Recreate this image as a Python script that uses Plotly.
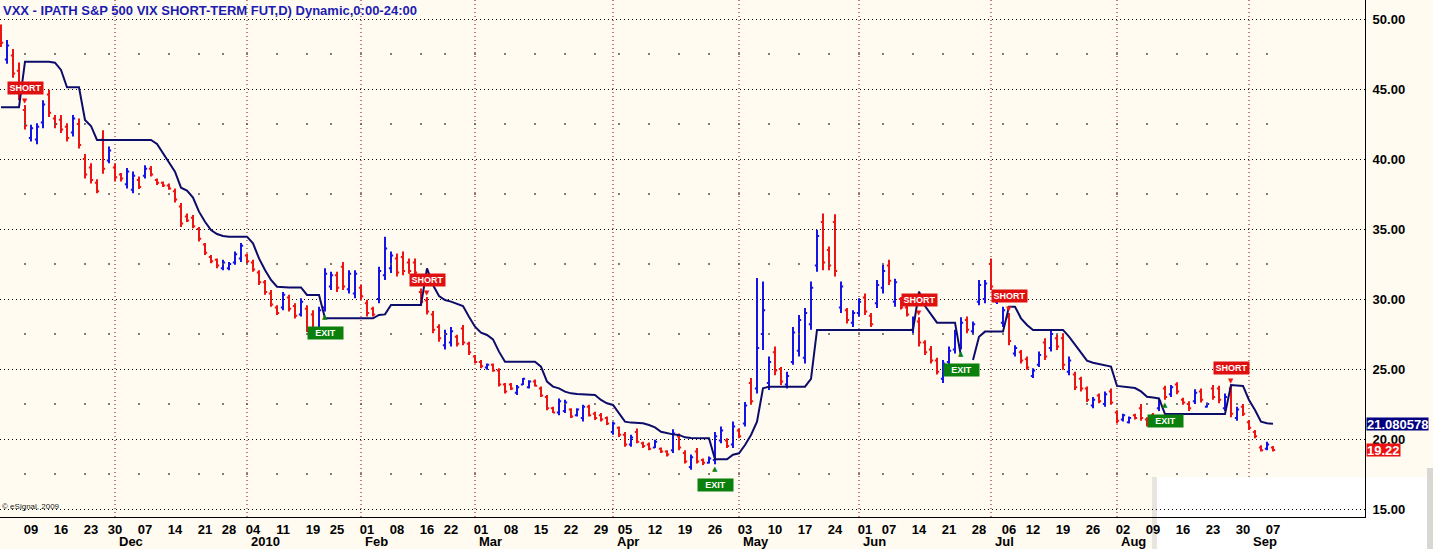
import plotly.graph_objects as go

# ---------------- data ----------------
BAR_OPEN = [
    49.3, 47.1, 47.4, 46.3, 43.5, 41.5, 41.4, 42.6, 44.6, 42.9,
    42.8, 42.3, 41.9, 42.5, 40.0, 39.4, 38.3, 41.4, 39.9, 39.4,
    38.9, 38.2, 37.8, 38.5, 38.8, 39.3, 38.5, 38.3, 38.1, 37.7,
    36.6, 35.9, 35.8, 35.0, 33.9, 33.0, 32.8, 32.2, 32.2, 32.6,
    32.9, 33.1, 32.6, 31.9, 31.2, 30.4, 29.4, 29.4, 30.1, 29.5,
    28.9, 29.3, 28.9, 27.8, 29.4, 30.9, 31.7, 32.3, 30.7, 30.4,
    30.8, 29.7, 29.3, 30.0, 31.7, 32.2, 32.9, 33.0, 32.6, 32.6,
    30.5, 29.9, 28.9, 28.0, 26.7, 26.9, 27.3, 27.9, 26.8, 25.9,
    25.5, 25.1, 25.3, 24.9, 23.9, 23.9, 23.3, 23.9, 23.7, 24.1,
    23.6, 23.0, 22.2, 21.9, 22.0, 22.1, 21.7, 21.5, 22.3, 21.8,
    21.7, 21.5, 20.5, 20.8, 20.3, 19.6, 20.5, 19.7, 19.6, 19.4,
    19.3, 19.1, 19.2, 20.2, 19.0, 18.0, 19.1, 18.5, 18.3, 18.5,
    19.9, 19.9, 19.6, 20.6, 21.1, 24.0, 23.6, 27.5, 24.0, 26.2,
    25.0, 23.9, 25.5, 26.3, 25.8, 28.2, 32.4, 35.5, 33.5, 35.5,
    29.4, 29.2, 28.3, 29.0, 30.1, 28.8, 29.7, 30.8, 32.4, 29.8,
    30.0, 29.4, 27.8, 28.4, 26.9, 26.4, 25.6, 24.3, 25.5, 26.4,
    26.7, 28.5, 27.7, 29.8, 30.0, 32.5, 29.8, 28.3, 28.7, 26.1,
    26.2, 25.7, 24.5, 25.3, 26.9, 26.5, 27.2, 27.2, 24.8, 24.6,
    24.3, 23.6, 22.4, 23.1, 22.5, 23.4, 21.9, 21.4, 21.2, 21.7,
    22.2, 21.4, 21.7, 22.2, 23.6, 23.2, 23.9, 22.8, 22.5, 22.7,
    23.4, 22.3, 23.6, 23.6, 22.2, 23.6, 21.5, 22.3, 21.2, 20.5,
    19.4, 19.3, 19.4,
]
BAR_HIGH = [
    49.6, 48.5, 47.85, 46.9, 43.85, 42.45, 42.55, 44.2, 44.95, 43.15,
    43.15, 42.55, 43.15, 42.9, 40.35, 39.7, 38.55, 42.05, 40.9, 39.7,
    39.0, 39.35, 39.1, 38.75, 39.55, 39.5, 38.6, 38.4, 38.25, 37.9,
    36.85, 36.1, 36.0, 35.15, 34.0, 33.15, 32.9, 32.8, 32.65, 33.4,
    34.0, 33.25, 32.8, 32.05, 31.35, 30.65, 29.55, 30.5, 30.3, 29.7,
    30.05, 29.55, 29.2, 29.45, 32.2, 31.95, 31.95, 32.65, 32.05, 32.05,
    31.0, 29.95, 29.45, 32.3, 34.45, 33.4, 33.25, 33.4, 32.9, 32.9,
    30.75, 30.15, 29.15, 28.2, 27.8, 28.0, 27.45, 28.15, 26.95, 26.0,
    25.65, 25.4, 25.4, 25.05, 24.0, 24.0, 23.85, 24.35, 24.2, 24.25,
    23.75, 23.15, 22.3, 22.9, 22.8, 22.2, 22.2, 22.45, 22.45, 21.95,
    21.85, 21.6, 21.25, 20.9, 20.5, 20.3, 20.75, 19.8, 19.75, 19.95,
    19.4, 19.2, 20.7, 20.4, 19.2, 18.9, 19.35, 18.6, 18.75, 20.5,
    20.9, 20.05, 21.25, 20.75, 22.65, 24.35, 31.5, 31.25, 25.9, 26.6,
    25.15, 24.8, 28.0, 28.85, 29.35, 31.25, 34.95, 36.1, 33.75, 36.05,
    31.25, 29.35, 29.2, 30.05, 30.4, 29.0, 31.35, 32.45, 32.8, 31.45,
    30.15, 29.6, 28.75, 28.7, 27.05, 26.65, 25.8, 25.65, 26.6, 27.8,
    28.7, 28.75, 28.4, 31.35, 31.35, 32.9, 30.45, 29.45, 29.0, 26.7,
    26.35, 25.9, 25.05, 26.25, 27.2, 27.8, 27.45, 27.55, 25.9, 24.8,
    24.45, 23.75, 23.0, 23.25, 23.4, 23.6, 22.05, 21.8, 21.6, 21.8,
    22.5, 21.55, 21.85, 22.85, 23.8, 23.85, 24.05, 22.95, 22.7, 23.55,
    23.6, 22.6, 23.85, 23.8, 23.25, 23.85, 22.3, 22.5, 21.35, 20.65,
    19.55, 19.8, 19.5,
]
BAR_LOW = [
    48.0, 46.8, 45.8, 44.2, 42.1, 41.25, 41.05, 42.2, 43.0, 42.2,
    41.85, 41.25, 41.6, 40.75, 38.6, 38.25, 37.55, 38.95, 39.7, 38.4,
    38.4, 37.9, 37.55, 37.85, 38.6, 38.75, 38.15, 38.0, 37.8, 36.9,
    35.15, 35.5, 35.05, 34.1, 33.15, 32.55, 32.2, 32.05, 32.05, 32.45,
    32.65, 32.55, 31.95, 31.0, 30.3, 29.45, 28.85, 29.2, 29.1, 28.6,
    28.75, 27.65, 27.65, 27.45, 29.1, 30.65, 30.5, 30.65, 30.4, 30.05,
    29.95, 28.75, 28.75, 29.7, 31.35, 31.85, 31.6, 31.7, 31.8, 31.7,
    29.6, 28.9, 27.55, 26.95, 26.4, 26.6, 26.6, 26.7, 26.0, 25.4,
    25.05, 24.95, 24.8, 23.75, 23.25, 23.5, 23.15, 23.85, 23.6, 23.75,
    23.0, 22.05, 21.85, 21.7, 21.85, 21.5, 21.6, 21.25, 21.6, 21.35,
    21.25, 21.0, 20.3, 20.15, 19.45, 19.45, 19.7, 19.35, 19.2, 19.35,
    19.0, 18.75, 19.0, 19.2, 18.25, 17.8, 18.25, 18.15, 18.25, 18.2,
    19.7, 19.35, 19.35, 20.05, 20.9, 22.45, 23.25, 26.35, 23.5, 24.55,
    23.85, 23.6, 25.3, 25.9, 25.4, 27.8, 31.95, 32.05, 32.05, 31.6,
    29.0, 28.25, 28.0, 28.75, 28.85, 28.0, 29.35, 30.4, 31.0, 29.45,
    29.25, 28.75, 27.55, 26.6, 26.0, 25.4, 24.6, 24.0, 25.3, 26.1,
    26.4, 27.55, 27.45, 29.55, 29.7, 30.65, 29.65, 28.0, 26.7, 25.9,
    25.4, 24.95, 24.35, 25.15, 25.65, 26.25, 26.35, 24.95, 24.55, 23.5,
    23.4, 22.65, 22.2, 22.55, 22.3, 22.45, 21.1, 21.25, 21.1, 21.4,
    21.3, 20.9, 21.0, 22.0, 22.8, 23.0, 23.2, 22.45, 22.0, 22.5,
    22.6, 22.25, 22.8, 22.55, 22.0, 21.55, 21.3, 21.65, 20.65, 20.05,
    19.1, 19.2, 19.1,
]
BAR_CLOSE = [
    48.3, 48.1, 46.1, 44.6, 42.4, 42.2, 42.3, 43.9, 43.3, 42.5,
    42.1, 41.5, 42.9, 41.0, 38.9, 38.5, 37.7, 39.3, 40.6, 38.7,
    38.6, 39.1, 38.8, 38.0, 39.3, 38.9, 38.3, 38.1, 37.9, 37.1,
    35.4, 35.6, 35.2, 34.3, 33.3, 32.7, 32.4, 32.6, 32.5, 33.2,
    33.8, 32.7, 32.1, 31.2, 30.5, 29.6, 29.0, 30.3, 29.3, 28.8,
    29.8, 27.9, 27.9, 29.2, 31.8, 31.7, 30.8, 30.9, 31.8, 31.8,
    30.2, 29.0, 28.9, 32.0, 33.6, 33.1, 31.9, 32.0, 32.0, 31.9,
    29.8, 29.1, 27.8, 27.2, 27.5, 27.7, 26.8, 26.9, 26.2, 25.5,
    25.2, 25.3, 24.9, 23.9, 23.4, 23.6, 23.7, 24.3, 24.1, 23.8,
    23.1, 22.2, 21.9, 22.7, 22.6, 21.6, 22.1, 22.3, 21.7, 21.5,
    21.4, 21.1, 21.1, 20.3, 19.6, 20.1, 19.8, 19.5, 19.3, 19.8,
    19.1, 18.9, 20.4, 19.4, 18.4, 18.7, 18.4, 18.3, 18.6, 20.2,
    20.6, 19.5, 20.9, 20.2, 22.4, 22.7, 26.5, 29.2, 25.5, 24.9,
    24.1, 24.5, 27.6, 28.5, 29.0, 30.8, 34.5, 32.6, 32.4, 32.0,
    30.9, 28.5, 29.0, 29.8, 29.1, 28.2, 31.0, 32.0, 31.3, 31.2,
    29.4, 28.9, 28.5, 26.9, 26.2, 25.6, 24.8, 25.4, 26.3, 27.5,
    28.3, 27.8, 28.2, 31.0, 31.1, 30.9, 30.3, 29.2, 27.0, 26.5,
    25.6, 25.1, 24.9, 26.0, 25.9, 27.5, 26.6, 25.3, 25.6, 23.7,
    23.6, 22.8, 22.8, 22.7, 23.2, 22.6, 21.3, 21.7, 21.5, 21.5,
    21.5, 21.0, 21.2, 22.7, 23.0, 23.7, 23.4, 22.6, 22.2, 23.3,
    22.8, 22.5, 23.0, 22.8, 23.0, 21.8, 22.1, 21.8, 20.8, 20.2,
    19.2, 19.6, 19.22,
]
STOP_LINE = [
    43.69, 43.69, 43.69, 43.69, 46.95, 46.95, 46.95, 46.95, 46.95, 46.88,
    46.36, 45.12, 45.12, 45.12, 42.79, 42.36, 41.36, 41.36, 41.36, 41.36,
    41.36, 41.36, 41.36, 41.36, 41.36, 41.36, 41.07, 40.4, 39.69, 39.1,
    37.95, 37.75, 37.25, 36.24, 35.52, 34.93, 34.64, 34.5, 34.45, 34.45,
    34.45, 34.45, 33.98, 32.9, 32.07, 31.36, 30.88, 30.83, 30.83, 30.83,
    30.83, 30.29, 30.29, 30.29, 28.62, 28.62, 28.62, 28.62, 28.62, 28.62,
    28.62, 28.62, 28.62, 28.86, 28.9, 29.57, 29.57, 29.57, 29.57, 29.57,
    29.57, 32.19, 31.0, 30.21, 29.93, 29.81, 29.64, 29.5, 28.74, 28.02,
    27.6, 27.43, 27.12, 26.24, 25.52, 25.52, 25.52, 25.52, 25.52, 25.52,
    25.17, 24.1, 23.74, 23.62, 23.38, 23.26, 23.21, 23.19, 23.17, 23.14,
    22.79, 22.55, 22.43, 21.83, 21.24, 21.17, 21.14, 21.12, 21.0, 20.83,
    20.52, 20.4, 20.33, 20.29, 20.12, 20.07, 20.05, 20.05, 20.05, 18.55,
    18.55, 18.55, 18.88, 18.98, 19.57, 20.29, 21.24, 23.62, 23.74, 23.74,
    23.74, 23.74, 23.74, 23.74, 23.74, 24.29, 27.79, 27.79, 27.79, 27.79,
    27.79, 27.79, 27.79, 27.79, 27.79, 27.79, 27.79, 27.79, 27.79, 27.79,
    27.79, 27.79, 27.79, 30.52, 29.5, 28.9, 28.31, 28.31, 28.31, 28.31,
    25.9, None, 25.64, 27.3, 27.67, 27.67, 27.67, 27.67, 29.45, 29.45,
    28.62, 28.14, 27.79, 27.79, 27.79, 27.79, 27.79, 27.79, 27.31, 26.71,
    26.12, 25.6, 25.45, 25.36, 25.29, 25.17, 23.79, 23.74, 23.69, 23.64,
    23.4, 23.02, 22.97, 22.9, 21.78, 21.78, 21.78, 21.78, 21.78, 21.78,
    21.78, 21.78, 21.78, 21.78, 21.78, 23.86, 23.83, 23.79, 22.79, 22.07,
    21.24, 21.12, 21.080578,
]
WEEK_IDX = [5, 10, 15, 19, 24, 29, 34, 38, 42, 47, 52, 56, 61, 66, 71, 75,
            80, 85, 90, 95, 100, 104, 109, 114, 119, 124, 129, 134, 139,
            144, 148, 153, 158, 163, 168, 172, 177, 182, 187, 192, 197, 202,
            207, 212]
WEEK_TXT = ["09", "16", "23", "30", "07", "14", "21", "28", "04", "11", "19",
            "25", "01", "08", "16", "22", "01", "08", "15", "22", "29", "05",
            "12", "19", "26", "03", "10", "17", "24", "01", "07", "14", "21",
            "28", "06", "12", "19", "26", "02", "09", "16", "23", "30", "07"]
MONTH_IDX = [19, 41, 60, 79, 102, 123, 143, 165, 186, 208]
MONTH_TXT = ["Dec", "2010", "Feb", "Mar", "Apr", "May", "Jun", "Jul", "Aug", "Sep"]
SHORT_IDX = [4, 71, 153, 168, 205]
EXIT_IDX = [54, 119, 160, 194]
Y_TICKS = [15, 20, 25, 30, 35, 40, 45, 50]
MINOR_Y = [17.5, 22.5, 27.5, 32.5, 37.5, 42.5, 47.5]
LAST_STOP = 21.080578
LAST_CLOSE = 19.22
TITLE = "VXX - IPATH S&P 500 VIX SHORT-TERM FUT,D) Dynamic,0:00-24:00"

# ---------------- style ----------------
BG = "#fffbf0"
BLUE = "#1414e6"
RED = "#ec1414"
NAVY = "#0c0c6a"
GREEN = "#0c800c"
FONT = "Liberation Sans, Arial, sans-serif"

W, H = 1433, 549
ML, MR, MT, MB = 0, 68, 0, 32
PW, PH = W - ML - MR, H - MT - MB

def px_x(p):
    return (p - ML) / PW

def px_y(p):
    return (PH - (p - MT)) / PH

idx = list(range(len(BAR_CLOSE)))

fig = go.Figure()

# sparse minor grid dots (weekly positions at the half levels)
mx, my = [], []
for yv in MINOR_Y:
    for w in WEEK_IDX:
        mx.append(w - 1)
        my.append(yv)
fig.add_trace(go.Scatter(x=mx, y=my, mode="markers",
                         marker=dict(size=2, color="#555555", line=dict(width=0)),
                         hoverinfo="skip", showlegend=False))

fig.add_trace(go.Ohlc(
    x=idx, open=BAR_OPEN, high=BAR_HIGH, low=BAR_LOW, close=BAR_CLOSE,
    increasing=dict(line=dict(color=BLUE, width=2)),
    decreasing=dict(line=dict(color=RED, width=2)),
    tickwidth=0.36, hoverinfo="skip", showlegend=False))

fig.add_trace(go.Scatter(x=idx, y=STOP_LINE, mode="lines",
                         line=dict(color=NAVY, width=2),
                         connectgaps=False, hoverinfo="skip", showlegend=False))

shapes = []
for m in MONTH_IDX:
    shapes.append(dict(type="line", xref="x", yref="paper", x0=m, x1=m, y0=0, y1=1,
                       line=dict(color="#8a0000", width=1, dash="1px,3px"), layer="below"))
# whitish overlay box at bottom right
shapes.append(dict(type="rect", xref="paper", yref="paper",
                   x0=px_x(1157), x1=px_x(1427), y0=px_y(549), y1=px_y(477),
                   fillcolor="#ffffff", line=dict(width=0), layer="below"))
shapes.append(dict(type="rect", xref="paper", yref="paper",
                   x0=px_x(1152), x1=px_x(1157), y0=px_y(549), y1=px_y(477),
                   fillcolor="rgba(190,190,190,0.35)", line=dict(width=0), layer="below"))
shapes.append(dict(type="rect", xref="paper", yref="paper",
                   x0=px_x(1427), x1=px_x(1433), y0=px_y(549), y1=px_y(468),
                   fillcolor="rgba(185,185,185,0.55)", line=dict(width=0), layer="below"))

ann = []
ann.append(dict(xref="paper", yref="paper", x=px_x(1), y=1, xanchor="left", yanchor="top",
                text=TITLE, showarrow=False, yshift=-1,
                font=dict(family=FONT, size=13, color="#1c1cb0", weight="bold")))
ann.append(dict(xref="paper", yref="paper", x=0, y=px_y(506), xanchor="left", yanchor="middle",
                text="\u00a9 eSignal, 2009", showarrow=False,
                font=dict(family=FONT, size=8, color="#222222")))
for m, t in zip(MONTH_IDX, MONTH_TXT):
    ann.append(dict(xref="x", yref="paper", x=m + 0.3, y=0, xanchor="left", yanchor="middle",
                    yshift=-24, text=t, showarrow=False,
                    font=dict(family=FONT, size=13, color="#000000", weight="bold")))
for s in SHORT_IDX:
    ann.append(dict(x=s, y=BAR_HIGH[s], text="\u25bc", showarrow=False, yshift=4,
                    font=dict(family="DejaVu Sans", size=7, color=RED)))
    ann.append(dict(x=s, y=BAR_HIGH[s], text="SHORT", showarrow=False, yshift=17,
                    bgcolor="#e01010", width=35, height=12, borderpad=0,
                    font=dict(family=FONT, size=9, color="#ffffff", weight="bold")))
for e in EXIT_IDX:
    ann.append(dict(x=e, y=BAR_LOW[e], text="\u25b2", showarrow=False, yshift=-5,
                    font=dict(family="DejaVu Sans", size=7, color=GREEN)))
    ann.append(dict(x=e, y=BAR_LOW[e], text="EXIT", showarrow=False, yshift=-21,
                    bgcolor=GREEN, width=35, height=12, borderpad=0,
                    font=dict(family=FONT, size=9, color="#ffffff", weight="bold")))
ann.append(dict(xref="paper", yref="y", x=1, y=LAST_STOP, xanchor="left", yanchor="middle",
                text=f"{LAST_STOP}", showarrow=False, bgcolor="#000080", borderpad=0,
                xshift=1, height=12,
                font=dict(family=FONT, size=13, color="#ffffff", weight="bold")))
ann.append(dict(xref="paper", yref="y", x=1, y=LAST_CLOSE, xanchor="left", yanchor="middle",
                text=f"{LAST_CLOSE:.2f}", showarrow=False, bgcolor="#ee1111", borderpad=0,
                xshift=1, height=12,
                font=dict(family=FONT, size=13, color="#ffffff", weight="bold")))

fig.update_layout(
    width=W, height=H,
    margin=dict(l=ML, r=MR, t=MT, b=MB, pad=0),
    paper_bgcolor=BG, plot_bgcolor=BG,
    showlegend=False, shapes=shapes, annotations=ann,
    xaxis=dict(range=[-1 / 6, (PW - 1) / 6], showgrid=False, zeroline=False,
               tickmode="array", tickvals=WEEK_IDX, ticktext=WEEK_TXT, ticks="",
               tickfont=dict(family=FONT, size=13, color="#000000", weight="bold"),
               showline=True, linecolor="#000000", linewidth=1,
               rangeslider=dict(visible=False), fixedrange=True),
    yaxis=dict(range=[50 - (PH - 19) / 14, 50 + 19 / 14], side="right",
               tickmode="array", tickvals=Y_TICKS, ticktext=[f"{v:.2f}" for v in Y_TICKS],
               ticks="", ticklabelstandoff=4,
               tickfont=dict(family=FONT, size=13, color="#000000", weight="bold"),
               showgrid=True, gridcolor="#000000", gridwidth=1, griddash="1px,3px",
               zeroline=False, showline=True, linecolor="#000000", linewidth=1,
               fixedrange=True),
)

fig.write_html(
    "out.html",
    config={"displayModeBar": False, "staticPlot": True},
    post_script="document.body.style.margin='0px';document.documentElement.style.overflow='hidden';document.body.style.overflow='hidden';",
)
